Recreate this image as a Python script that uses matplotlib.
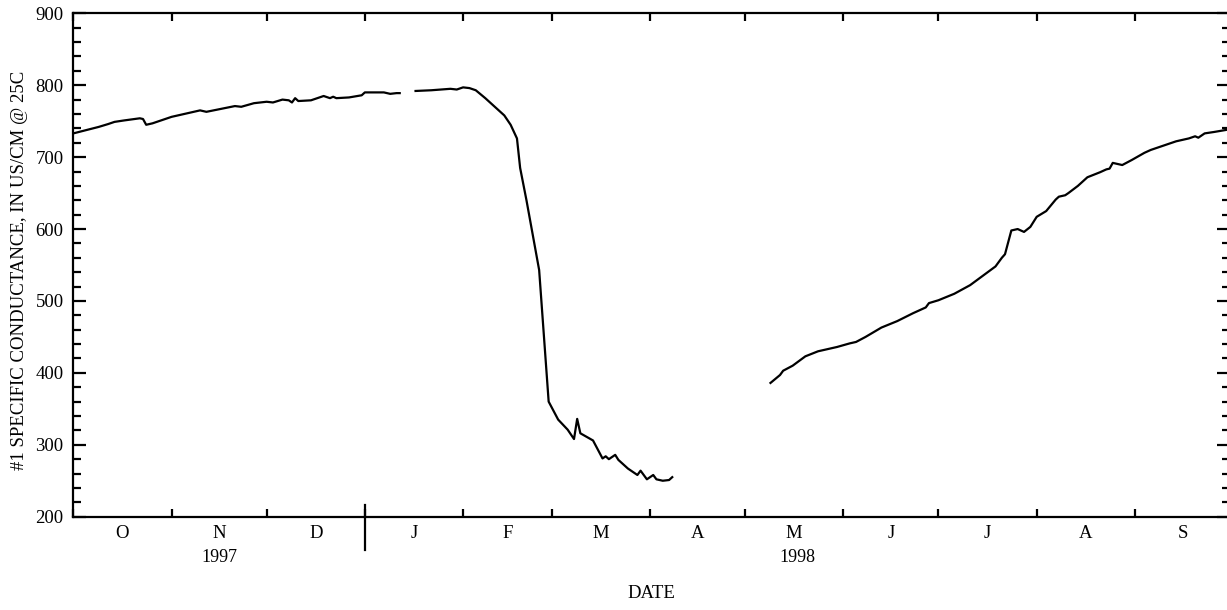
import matplotlib
matplotlib.use("Agg")
import matplotlib.pyplot as plt
import matplotlib.dates as mdates
import matplotlib.transforms as mtransforms
import numpy as np
import pandas as pd

# Daily specific conductance, water year 1998 (three continuous record pieces)
seg1_dates = ["1997-10-01", "1997-10-09", "1997-10-12", "1997-10-14", "1997-10-17",
              "1997-10-22", "1997-10-23", "1997-10-24", "1997-10-26", "1997-11-01",
              "1997-11-10", "1997-11-12", "1997-11-21", "1997-11-23", "1997-11-27",
              "1997-12-01", "1997-12-03", "1997-12-06", "1997-12-08", "1997-12-09",
              "1997-12-10", "1997-12-11", "1997-12-15", "1997-12-17", "1997-12-19",
              "1997-12-21", "1997-12-22", "1997-12-23", "1997-12-27", "1997-12-31",
              "1998-01-01", "1998-01-07", "1998-01-09", "1998-01-11", "1998-01-12"]
seg1_vals = [733, 742, 746, 749, 751,
             754, 753, 745, 747, 756,
             765, 763, 771, 770, 775,
             777, 776, 780, 779, 776,
             782, 778, 779, 782, 785,
             782, 784, 782, 783, 786,
             790, 790, 788, 789, 789]

seg2_dates = ["1998-01-17", "1998-01-22", "1998-01-28", "1998-01-30", "1998-02-01",
              "1998-02-03", "1998-02-05", "1998-02-08", "1998-02-11", "1998-02-14",
              "1998-02-16", "1998-02-18", "1998-02-19", "1998-02-21", "1998-02-25",
              "1998-02-28", "1998-03-03", "1998-03-06", "1998-03-08", "1998-03-09",
              "1998-03-10", "1998-03-12", "1998-03-14", "1998-03-17", "1998-03-18",
              "1998-03-19", "1998-03-21", "1998-03-22", "1998-03-25", "1998-03-28",
              "1998-03-29", "1998-03-31", "1998-04-02", "1998-04-03", "1998-04-05",
              "1998-04-07", "1998-04-08"]
seg2_vals = [792, 793, 795, 794, 797,
             796, 793, 782, 770, 758,
             745, 726, 685, 640, 543,
             360, 335, 321, 308, 336,
             316, 311, 306, 281, 284,
             280, 286, 279, 267, 258,
             264, 252, 258, 252, 250,
             251, 255]

seg3_dates = ["1998-05-09", "1998-05-12", "1998-05-13", "1998-05-16", "1998-05-20",
              "1998-05-24", "1998-05-30", "1998-06-03", "1998-06-05", "1998-06-08",
              "1998-06-13", "1998-06-18", "1998-06-23", "1998-06-27", "1998-06-28",
              "1998-07-01", "1998-07-06", "1998-07-11", "1998-07-15", "1998-07-19",
              "1998-07-21", "1998-07-22", "1998-07-24", "1998-07-26", "1998-07-28",
              "1998-07-30", "1998-08-01", "1998-08-04", "1998-08-07", "1998-08-08",
              "1998-08-10", "1998-08-11", "1998-08-14", "1998-08-17", "1998-08-21",
              "1998-08-23", "1998-08-24", "1998-08-25", "1998-08-28", "1998-08-31",
              "1998-09-04", "1998-09-06", "1998-09-10", "1998-09-14", "1998-09-18",
              "1998-09-20", "1998-09-21", "1998-09-23", "1998-09-26", "1998-09-30"]
seg3_vals = [386, 397, 403, 410, 423,
             430, 436, 441, 443, 450,
             463, 472, 483, 491, 497,
             501, 510, 522, 535, 548,
             560, 565, 598, 600, 596,
             603, 617, 625, 641, 645,
             647, 650, 660, 672, 679,
             683, 684, 692, 689, 696,
             706, 710, 716, 722, 726,
             729, 727, 733, 735, 738]

month_letters = ["O", "N", "D", "J", "F", "M", "A", "M", "J", "J", "A", "S"]
year_labels = ["1997", "1998"]
y_ticks = [200, 300, 400, 500, 600, 700, 800, 900]

plt.rcParams["font.family"] = ["Liberation Serif", "DejaVu Serif"]

W, H = 1227, 610
fig = plt.figure(figsize=(W / 100, H / 100), dpi=100)
left_px, right_px, top_px, bottom_px = 73.3, 1230.0, 13.3, 516.7
ax = fig.add_axes([left_px / W, 1 - bottom_px / H,
                   (right_px - left_px) / W, (bottom_px - top_px) / H])

for d, v in ((seg1_dates, seg1_vals), (seg2_dates, seg2_vals), (seg3_dates, seg3_vals)):
    ax.plot(pd.to_datetime(d), v, color="black", lw=1.6, solid_joinstyle="round")

start = pd.Timestamp("1997-10-01")
end = pd.Timestamp("1998-10-01")
ax.set_xlim(start, end)
ax.set_ylim(200, 900)

for s in ax.spines.values():
    s.set_linewidth(1.6)

# Month boundary ticks on bottom and top
month_starts = pd.date_range(start, end, freq="MS")
ax.set_xticks(month_starts)
ax.tick_params(axis="x", which="major", direction="in", length=6, width=1.6,
               top=True, bottom=True, labelbottom=False)

ax.set_yticks(y_ticks)
ax.set_yticks(np.arange(200, 901, 20), minor=True)
ax.tick_params(axis="y", which="major", direction="in", length=9.5, width=1.6,
               left=True, right=True, labelsize=13.5, pad=7)
ax.tick_params(axis="y", which="minor", direction="in", length=6, width=1.6,
               left=True, right=True)

# Month letters centred under each month
xt = mtransforms.blended_transform_factory(ax.transData, ax.transAxes)
for i, letter in enumerate(month_letters):
    m0 = mdates.date2num(month_starts[i])
    m1 = mdates.date2num(month_starts[i + 1])
    ax.text((m0 + m1) / 2, -0.033, letter, transform=xt, ha="center", va="center",
            fontsize=13.5)

# Calendar-year labels and divider
jan1 = mdates.date2num(pd.Timestamp("1998-01-01"))
x0 = mdates.date2num(start)
x1 = mdates.date2num(end)
ax.text((x0 + jan1) / 2, -0.081, year_labels[0], transform=xt, ha="center",
        va="center", fontsize=13)
ax.text((jan1 + x1) / 2, -0.081, year_labels[1], transform=xt, ha="center",
        va="center", fontsize=13)
ax.plot([jan1, jan1], [0.023, -0.066], transform=xt, color="black", lw=1.6,
        clip_on=False)

ax.text(0.5, -0.152, "DATE", transform=ax.transAxes, ha="center", va="center",
        fontsize=13.5)
fig.text(20 / W, 1 - 270 / H, "#1 SPECIFIC CONDUCTANCE, IN US/CM @ 25C",
         rotation=90, ha="center", va="center", fontsize=13.5)

fig.savefig("out.png", dpi=100)
